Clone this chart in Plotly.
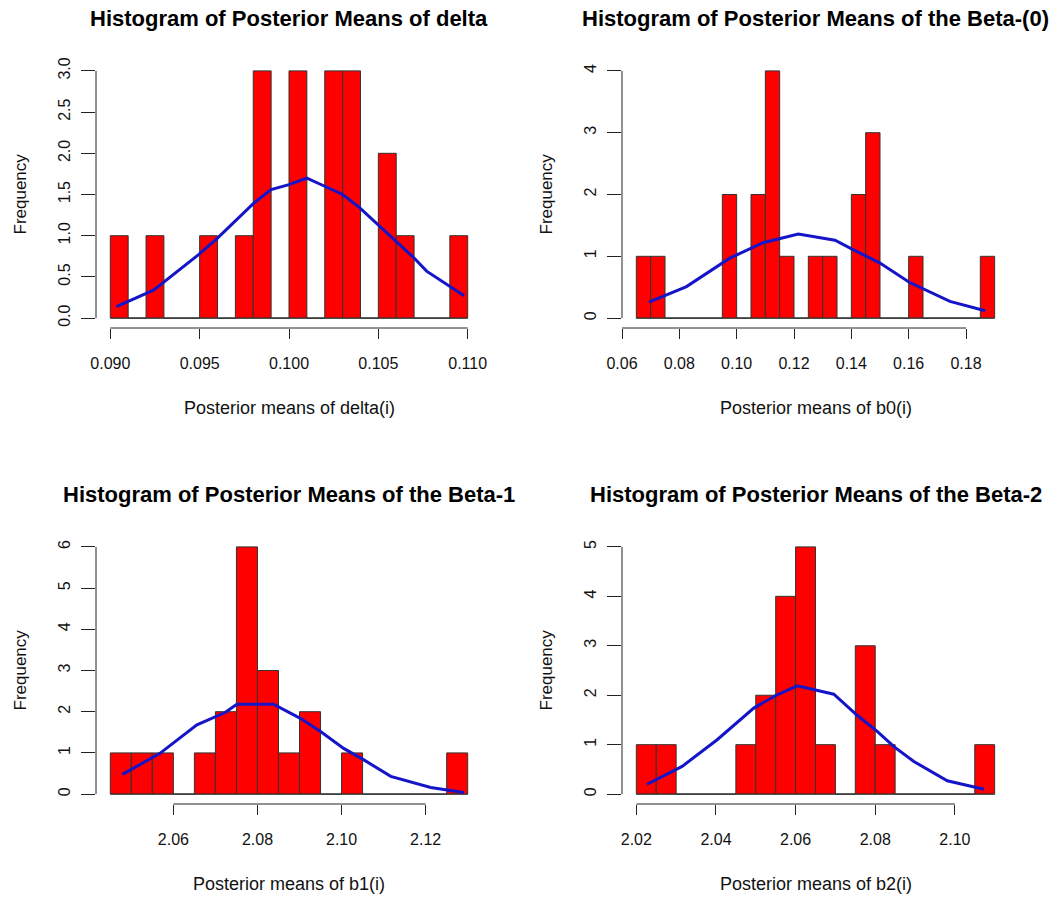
import plotly.graph_objects as go

FONT = "Liberation Sans, Arial, sans-serif"
W, H = 1060, 901

# ---------------- data ----------------
delta_bin_start = 0.090
delta_bin_width = 0.001
delta_counts = [1, 0, 1, 0, 0, 1, 0, 1, 3, 0, 3, 0, 3, 3, 0, 2, 1, 0, 0, 1]
delta_curve_x = [0.09034, 0.09242, 0.09494, 0.0960, 0.0980, 0.0990, 0.1000, 0.1010,
                 0.1020, 0.1030, 0.1039, 0.1050, 0.1060, 0.1070, 0.1077, 0.1098]
delta_curve_y = [0.14, 0.34, 0.77, 0.97, 1.39, 1.56, 1.62, 1.70,
                 1.60, 1.50, 1.35, 1.13, 0.93, 0.73, 0.57, 0.27]
delta_xticks = [0.090, 0.095, 0.100, 0.105, 0.110]
delta_xlabels = ["0.090", "0.095", "0.100", "0.105", "0.110"]
delta_yticks = [0, 0.5, 1, 1.5, 2, 2.5, 3]
delta_ylabels = ["0.0", "0.5", "1.0", "1.5", "2.0", "2.5", "3.0"]

b0_bin_start = 0.065
b0_bin_width = 0.005
b0_counts = [1, 1, 0, 0, 0, 0, 2, 0, 2, 4, 1, 0, 1, 1, 0, 2, 3, 0, 0, 1, 0, 0, 0, 0, 1]
b0_curve_x = [0.0694, 0.0825, 0.0976, 0.1092, 0.1215, 0.1343, 0.1401, 0.1500, 0.1602, 0.1744, 0.1867]
b0_curve_y = [0.26, 0.51, 0.97, 1.22, 1.36, 1.26, 1.12, 0.89, 0.58, 0.27, 0.12]
b0_xticks = [0.06, 0.08, 0.10, 0.12, 0.14, 0.16, 0.18]
b0_xlabels = ["0.06", "0.08", "0.10", "0.12", "0.14", "0.16", "0.18"]
b0_yticks = [0, 1, 2, 3, 4]
b0_ylabels = ["0", "1", "2", "3", "4"]

b1_bin_start = 2.045
b1_bin_width = 0.005
b1_counts = [1, 1, 1, 0, 1, 2, 6, 3, 1, 2, 0, 1, 0, 0, 0, 0, 1]
b1_curve_x = [2.0479, 2.0568, 2.0656, 2.0723, 2.0751, 2.0838, 2.0902, 2.0950,
              2.1005, 2.1053, 2.1117, 2.1212, 2.1291]
b1_curve_y = [0.48, 0.99, 1.68, 1.98, 2.18, 2.18, 1.84, 1.52, 1.11, 0.83, 0.43, 0.16, 0.04]
b1_xticks = [2.06, 2.08, 2.10, 2.12]
b1_xlabels = ["2.06", "2.08", "2.10", "2.12"]
b1_yticks = [0, 1, 2, 3, 4, 5, 6]
b1_ylabels = ["0", "1", "2", "3", "4", "5", "6"]

b2_bin_start = 2.020
b2_bin_width = 0.005
b2_counts = [1, 1, 0, 0, 0, 1, 2, 4, 5, 1, 0, 3, 1, 0, 0, 0, 0, 1]
b2_curve_x = [2.0227, 2.0315, 2.0403, 2.0495, 2.0549, 2.0604, 2.0696, 2.0754,
              2.0805, 2.0847, 2.0897, 2.0981, 2.1073]
b2_curve_y = [0.20, 0.56, 1.10, 1.74, 1.99, 2.19, 2.02, 1.60, 1.27, 0.96, 0.66, 0.27, 0.10]
b2_xticks = [2.02, 2.04, 2.06, 2.08, 2.10]
b2_xlabels = ["2.02", "2.04", "2.06", "2.08", "2.10"]
b2_yticks = [0, 1, 2, 3, 4, 5]
b2_ylabels = ["0", "1", "2", "3", "4", "5"]

titles = ["Histogram of Posterior Means of delta",
          "Histogram of Posterior Means of the Beta-(0)",
          "Histogram of Posterior Means of the Beta-1",
          "Histogram of Posterior Means of the Beta-2"]
xtitles = ["Posterior means of delta(i)", "Posterior means of b0(i)",
           "Posterior means of b1(i)", "Posterior means of b2(i)"]
ytitle = "Frequency"

panels = [
    (delta_bin_start, delta_bin_width, delta_counts, delta_curve_x, delta_curve_y,
     delta_xticks, delta_xlabels, delta_yticks, delta_ylabels),
    (b0_bin_start, b0_bin_width, b0_counts, b0_curve_x, b0_curve_y,
     b0_xticks, b0_xlabels, b0_yticks, b0_ylabels),
    (b1_bin_start, b1_bin_width, b1_counts, b1_curve_x, b1_curve_y,
     b1_xticks, b1_xlabels, b1_yticks, b1_ylabels),
    (b2_bin_start, b2_bin_width, b2_counts, b2_curve_x, b2_curve_y,
     b2_xticks, b2_xlabels, b2_yticks, b2_ylabels),
]

# ---------------- layout (pixel boxes of the plot regions) ----------------
col_px = [(96, 482), (622, 1009)]
row_px = [(61, 328), (537, 804)]

AXIS_COLOR = "#222222"
BAR_COLOR = "#ff0000"
BAR_EDGE = "#333333"
LINE_COLOR = "#1414c8"

fig = go.Figure()
layout = dict(
    width=W, height=H, autosize=False,
    margin=dict(l=0, r=0, t=0, b=0, pad=0, autoexpand=False),
    paper_bgcolor="white", plot_bgcolor="white",
    showlegend=False, font=dict(family=FONT, size=16, color="#111111"),
)
shapes = []
annotations = []

for i, (start, width, counts, cx, cy, xt, xl, yt, yl) in enumerate(panels):
    r, c = divmod(i, 2)
    x0p, x1p = col_px[c]
    y0p, y1p = row_px[r]
    xa = "x" if i == 0 else f"x{i+1}"
    ya = "y" if i == 0 else f"y{i+1}"
    xkey = "xaxis" if i == 0 else f"xaxis{i+1}"
    ykey = "yaxis" if i == 0 else f"yaxis{i+1}"

    n = len(counts)
    centers = [start + width * (k + 0.5) for k in range(n)]
    lo, hi = start, start + width * n
    span = hi - lo
    ymax = max(yt)

    fig.add_trace(go.Bar(x=centers, y=counts, width=[width] * n, xaxis=xa, yaxis=ya,
                         marker=dict(color=BAR_COLOR, line=dict(color=BAR_EDGE, width=1)),
                         hoverinfo="skip"))
    # baseline for empty bins (zero-height rectangles in the original)
    fig.add_trace(go.Scatter(x=[lo, hi], y=[0, 0], mode="lines", xaxis=xa, yaxis=ya,
                             line=dict(color=BAR_EDGE, width=1), hoverinfo="skip"))
    fig.add_trace(go.Scatter(x=cx, y=cy, mode="lines", xaxis=xa, yaxis=ya,
                             line=dict(color=LINE_COLOR, width=3), hoverinfo="skip"))

    layout[xkey] = dict(
        domain=[x0p / W, x1p / W], anchor=ya, automargin=False,
        range=[lo - 0.04 * span, hi + 0.04 * span],
        tickmode="array", tickvals=xt, ticktext=xl,
        ticks="outside", ticklen=10, tickwidth=1, tickcolor=AXIS_COLOR,
        showline=False, showgrid=False, zeroline=False,
        ticklabelstandoff=11,
        tickfont=dict(family=FONT, size=16, color="#111111"),
    )
    layout[ykey] = dict(
        domain=[1 - y1p / H, 1 - y0p / H], anchor=xa, automargin=False,
        range=[-0.04 * ymax, ymax * 1.04],
        tickmode="array", tickvals=yt, ticktext=yl, tickangle=-90,
        ticks="outside", ticklen=14, tickwidth=1, tickcolor=AXIS_COLOR,
        showline=False, showgrid=False, zeroline=False,
        ticklabelstandoff=5,
        tickfont=dict(family=FONT, size=16, color="#111111"),
    )
    # axis lines spanning first..last tick (R style)
    shapes.append(dict(type="line", xref=xa, yref=f"{ya} domain",
                       x0=xt[0], x1=xt[-1], y0=0, y1=0,
                       line=dict(color=AXIS_COLOR, width=1)))
    shapes.append(dict(type="line", xref=f"{xa} domain", yref=ya,
                       x0=0, x1=0, y0=yt[0], y1=yt[-1],
                       line=dict(color=AXIS_COLOR, width=1)))

    cxp = (x0p + x1p) / 2
    annotations.append(dict(text=f"<b>{titles[i]}</b>", xref="paper", yref="paper",
                            x=cxp / W, y=1 - (y0p - 43) / H, showarrow=False,
                            xanchor="center", yanchor="middle",
                            font=dict(family=FONT, size=22, color="#000000")))
    annotations.append(dict(text=xtitles[i], xref="paper", yref="paper",
                            x=cxp / W, y=1 - (y1p + 80) / H, showarrow=False,
                            xanchor="center", yanchor="middle",
                            font=dict(family=FONT, size=18, color="#111111")))
    annotations.append(dict(text=ytitle, xref="paper", yref="paper",
                            x=(x0p - 76) / W, y=1 - ((y0p + y1p) / 2) / H, showarrow=False,
                            textangle=-90, xanchor="center", yanchor="middle",
                            font=dict(family=FONT, size=17, color="#111111")))

layout["shapes"] = shapes
layout["annotations"] = annotations
fig.update_layout(**layout)
# remove the browser's default body margin so the figure sits at the page origin
fig.write_html("out.html",
               config={"displayModeBar": False},
               post_script="document.body.style.margin='0';document.body.style.overflow='hidden';")
